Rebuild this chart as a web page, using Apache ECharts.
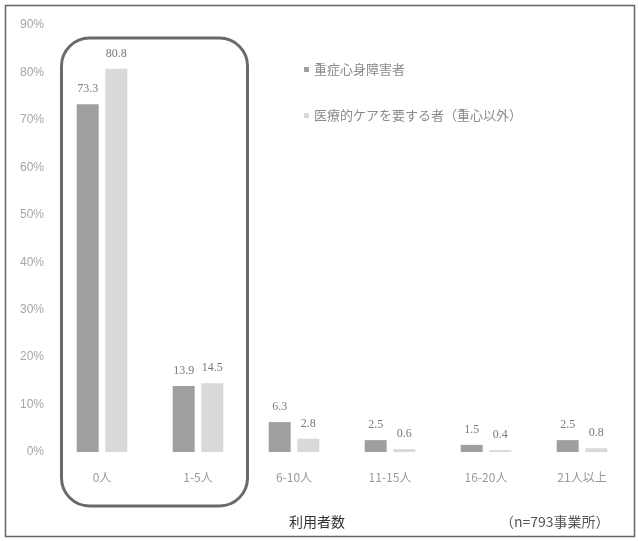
<!DOCTYPE html>
<html>
<head>
<meta charset="utf-8">
<script src="https://cdn.jsdelivr.net/npm/echarts@6/dist/echarts.min.js"></script>
<style>
  html, body { margin: 0; padding: 0; background: #fff; }
  #chart { width: 638px; height: 541px; }
</style>
</head>
<body>
<div id="chart"></div>
<script>
// 利用者数別の事業所割合（%）
const categories = ['0人', '1-5人', '6-10人', '11-15人', '16-20人', '21人以上'];
const seriesNames = ['重症心身障害者', '医療的ケアを要する者（重心以外）'];
const severeValues = [73.3, 13.9, 6.3, 2.5, 1.5, 2.5];
const medicalCareValues = [80.8, 14.5, 2.8, 0.6, 0.4, 0.8];

const chart = echarts.init(document.getElementById('chart'));
const font = '"Noto Sans CJK JP", "Noto Sans", sans-serif';

const labelStyle = {
  show: true,
  position: 'top',
  distance: 9,
  color: '#7a7a7a',
  fontSize: 12,
  fontFamily: '"Liberation Serif", "DejaVu Serif", serif'
};

chart.setOption({
  animation: false,
  backgroundColor: '#fff',
  grid: { left: 54, right: 8, top: 25, bottom: 89 },
  legend: {
    orient: 'vertical',
    left: 299,
    top: 58,
    itemWidth: 5,
    itemHeight: 5,
    itemGap: 33,
    icon: 'rect',
    textStyle: { color: '#8a8a8a', fontSize: 13, fontFamily: font },
    data: seriesNames
  },
  xAxis: {
    type: 'category',
    data: categories,
    axisLine: { show: false },
    axisTick: { show: false },
    axisLabel: { color: '#9a9a9a', fontSize: 12, fontFamily: font, margin: 19 }
  },
  yAxis: {
    type: 'value',
    min: 0,
    max: 90,
    interval: 10,
    splitLine: { show: false },
    axisLine: { show: false },
    axisTick: { show: false },
    axisLabel: {
      formatter: '{value}%',
      color: '#a5a5a5',
      fontSize: 12,
      margin: 10,
      fontFamily: '"Liberation Sans", sans-serif'
    }
  },
  series: [
    {
      name: seriesNames[0],
      type: 'bar',
      data: severeValues,
      barWidth: 22,
      barGap: '30%',
      itemStyle: { color: '#9f9f9f' },
      label: labelStyle
    },
    {
      name: seriesNames[1],
      type: 'bar',
      data: medicalCareValues,
      barWidth: 22,
      itemStyle: { color: '#d9d9d9' },
      label: labelStyle
    }
  ],
  graphic: [
    {
      type: 'rect',
      shape: { x: 5.5, y: 5.5, width: 629, height: 531 },
      style: { fill: 'none', stroke: '#666', lineWidth: 1.5 },
      silent: true
    },
    {
      type: 'rect',
      shape: { x: 61.5, y: 38, width: 186, height: 468, r: 28 },
      style: { fill: 'none', stroke: '#6a6a6a', lineWidth: 3 },
      silent: true
    },
    {
      type: 'text',
      left: 289,
      top: 515,
      style: { text: '利用者数', fill: '#333', fontSize: 14, fontFamily: font }
    },
    {
      type: 'text',
      left: 500,
      top: 515,
      style: { text: '（n=793事業所）', fill: '#555', fontSize: 14, fontFamily: font }
    }
  ]
});
</script>
</body>
</html>
